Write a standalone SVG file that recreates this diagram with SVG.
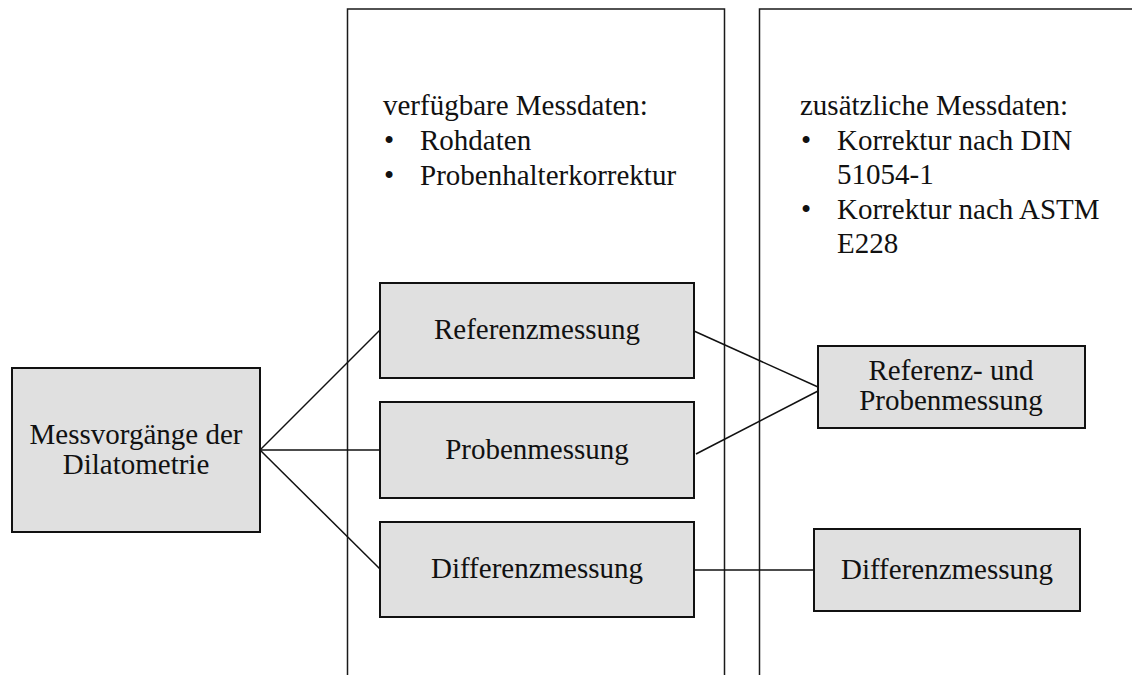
<svg xmlns="http://www.w3.org/2000/svg" width="1132" height="675" viewBox="0 0 1132 675">
  <style>
    .lane { fill: none; stroke: #1a1a1a; stroke-width: 1.5; }
    .box { fill: #e0e0e0; stroke: #111; stroke-width: 2; }
    .edge { fill: none; stroke: #111; stroke-width: 1.5; }
    text { font-family: "Liberation Serif", "Times New Roman", serif; font-size: 29px; fill: #111; }
    .c { text-anchor: middle; }
  </style>
  <rect width="1132" height="675" fill="#ffffff"/>

  <!-- column frames, open at the bottom -->
  <g id="lane-available">
    <path class="lane" d="M347.5,675 V9 H724.5 V675"/>
    <text x="383" y="115">verfügbare Messdaten:</text>
    <text x="384" y="150">•</text>
    <text x="420" y="150">Rohdaten</text>
    <text x="384" y="185">•</text>
    <text x="420" y="185">Probenhalterkorrektur</text>
  </g>
  <g id="lane-additional">
    <path class="lane" d="M759.5,675 V9 H1140"/>
    <text x="800" y="115">zusätzliche Messdaten:</text>
    <text x="801" y="150">•</text>
    <text x="837" y="150">Korrektur nach DIN</text>
    <text x="837" y="184">51054-1</text>
    <text x="801" y="219">•</text>
    <text x="837" y="219">Korrektur nach ASTM</text>
    <text x="837" y="253">E228</text>
  </g>

  <!-- connectors -->
  <g id="connectors">
    <line class="edge" x1="260" y1="450" x2="380" y2="330"/>
    <line class="edge" x1="260" y1="450" x2="380" y2="450"/>
    <line class="edge" x1="260" y1="450" x2="380" y2="569"/>
    <line class="edge" x1="694" y1="331" x2="818" y2="387"/>
    <line class="edge" x1="696" y1="454" x2="818" y2="391"/>
    <line class="edge" x1="694" y1="570" x2="814" y2="570"/>
  </g>

  <g id="node-dilatometrie">
    <rect class="box" x="12" y="368" width="248" height="164"/>
    <text class="c" x="136" y="444">Messvorgänge der</text>
    <text class="c" x="136" y="474">Dilatometrie</text>
  </g>
  <g id="node-referenz">
    <rect class="box" x="380" y="283" width="314" height="95"/>
    <text class="c" x="537" y="339">Referenzmessung</text>
  </g>
  <g id="node-proben">
    <rect class="box" x="380" y="402" width="314" height="96"/>
    <text class="c" x="537" y="459">Probenmessung</text>
  </g>
  <g id="node-differenz">
    <rect class="box" x="380" y="522" width="314" height="95"/>
    <text class="c" x="537" y="578">Differenzmessung</text>
  </g>
  <g id="node-ref-proben">
    <rect class="box" x="818" y="346" width="267" height="82"/>
    <text class="c" x="951" y="380">Referenz- und</text>
    <text class="c" x="951" y="410">Probenmessung</text>
  </g>
  <g id="node-differenz-2">
    <rect class="box" x="814" y="529" width="266" height="82"/>
    <text class="c" x="947" y="579">Differenzmessung</text>
  </g>
</svg>
